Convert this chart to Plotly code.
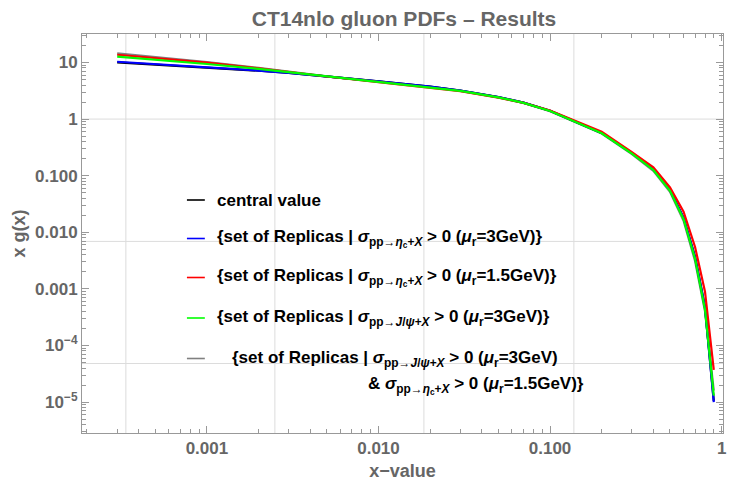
import numpy as np
import plotly.graph_objects as go

# ---------------- data ----------------
x_vals = [3e-4, 5e-4, 1e-3, 2e-3, 3e-3, 5e-3, 0.01, 0.02, 0.03, 0.05, 0.07,
          0.1, 0.2, 0.3, 0.4, 0.5, 0.6, 0.7, 0.8, 0.9]

central = [10.0, 9.2, 8.1, 7.15, 6.55, 5.7, 4.65, 3.75, 3.2, 2.45, 1.95,
           1.4, 0.57, 0.25, 0.13, 0.056, 0.018, 0.0037, 4.8e-4, 1.05e-5]
rep_eta3 = [10.3, 9.4, 8.25, 7.2, 6.57, 5.7, 4.65, 3.75, 3.2, 2.45, 1.95,
            1.4, 0.57, 0.25, 0.129, 0.056, 0.018, 0.0036, 4.7e-4, 1.0e-5]
rep_eta15 = [13.7, 11.9, 9.9, 7.9, 6.8, 5.65, 4.5, 3.6, 3.1, 2.4, 1.93,
             1.42, 0.6, 0.26, 0.14, 0.062, 0.0232, 0.0055, 8.9e-4, 3.7e-5]
rep_jpsi3 = [12.7, 11.2, 9.4, 7.7, 6.75, 5.7, 4.6, 3.7, 3.15, 2.42, 1.93,
             1.39, 0.56, 0.245, 0.126, 0.054, 0.017, 0.0034, 4.3e-4, 1.3e-5]
rep_both = [14.5, 12.5, 10.2, 8.0, 6.85, 5.7, 4.6, 3.7, 3.15, 2.42, 1.92,
            1.38, 0.555, 0.24, 0.122, 0.052, 0.016, 0.0031, 4.0e-4, 1.6e-5]

x_tickvals = [0.001, 0.01, 0.1, 1]
x_ticktext = ["0.001", "0.010", "0.100", "1"]
y_tickvals = [10, 1, 0.1, 0.01, 0.001, 1e-4, 1e-5]
y_ticktext = ["10", "1", "0.100", "0.010", "0.001", "10<sup>−4</sup>", "10<sup>−5</sup>"]

x_grid = [3.37e-4, 2.49e-3, 1.84e-2, 0.1377]
y_grid = [1.0, 6.9e-3, 4.8e-5]

x_range_log = [-3.728, 0.008]
y_range_log = [-5.546, 1.503]

SIG_ETA = "<i>σ</i><sub>pp→<i>η</i><sub>c</sub>+<i>X</i></sub>"
SIG_JPSI = "<i>σ</i><sub>pp→<i>J</i>/<i>ψ</i>+<i>X</i></sub>"
MU = "<i>μ</i><sub>r</sub>"
legend_entries = [
    ("central value", "#000000"),
    ("{set of Replicas | " + SIG_ETA + " &gt; 0 (" + MU + "=3GeV)}", "#0000ff"),
    ("{set of Replicas | " + SIG_ETA + " &gt; 0 (" + MU + "=1.5GeV)}", "#ff0000"),
    ("{set of Replicas | " + SIG_JPSI + " &gt; 0 (" + MU + "=3GeV)}", "#00ff00"),
    ("{set of Replicas | " + SIG_JPSI + " &gt; 0 (" + MU + "=3GeV)", "#808080"),
]
legend_extra = "&amp; " + SIG_ETA + " &gt; 0 (" + MU + "=1.5GeV)}"

# ---------------- figure ----------------
W, H = 732, 483
L, R, T, B = 81.5, 6, 34, 50
pw, ph = W - L - R, H - T - B

def px2paper(px):
    return (px - L) / pw

def py2paper(py):
    return (H - B - py) / ph

fig = go.Figure()

GRID = "#dcdcdc"
lo_y, hi_y = 10 ** (y_range_log[0] - 1), 10 ** (y_range_log[1] + 1)
lo_x, hi_x = 10 ** (x_range_log[0] - 1), 10 ** (x_range_log[1] + 1)
for gx in x_grid:
    fig.add_trace(go.Scatter(x=[gx, gx], y=[lo_y, hi_y], mode="lines",
                             line=dict(color=GRID, width=1), hoverinfo="skip", showlegend=False))
for gy in y_grid:
    fig.add_trace(go.Scatter(x=[lo_x, hi_x], y=[gy, gy], mode="lines",
                             line=dict(color=GRID, width=1), hoverinfo="skip", showlegend=False))

series = [
    (rep_both, "#808080"),
    (central, "#000000"),
    (rep_eta3, "#0000ff"),
    (rep_eta15, "#ff0000"),
    (rep_jpsi3, "#00ff00"),
]
for ys, col in series:
    fig.add_trace(go.Scatter(x=x_vals, y=ys, mode="lines",
                             line=dict(color=col, width=2.2), showlegend=False))

# minor ticks
minor_x = [m * 10.0 ** e for e in range(-4, 1) for m in range(2, 10) if m * 10.0 ** e < 1.02]
minor_y = [m * 10.0 ** e for e in range(-6, 2) for m in range(2, 10)]

AX = "#999999"
TXT = "#666666"
axis_common = dict(type="log", showline=True, linecolor=AX, linewidth=1, mirror="ticks",
                   ticks="inside", ticklen=7, tickcolor=AX, tickwidth=1,
                   showgrid=False, zeroline=False,
                   tickfont=dict(family="Liberation Sans, Arial", size=17, color=TXT, weight="bold"))

fig.update_xaxes(range=x_range_log, tickmode="array", tickvals=x_tickvals, ticktext=x_ticktext,
                 minor=dict(tickmode="array", tickvals=minor_x, ticks="inside", ticklen=4,
                            tickcolor=AX, showgrid=False),
                 title=dict(text="x−value", standoff=6,
                            font=dict(family="Liberation Sans, Arial", size=18, color=TXT, weight="bold")),
                 **axis_common)
fig.update_yaxes(range=y_range_log, tickmode="array", tickvals=y_tickvals, ticktext=y_ticktext,
                 minor=dict(tickmode="array", tickvals=minor_y, ticks="inside", ticklen=4,
                            tickcolor=AX, showgrid=False),
                 title=dict(text="x g(x)", standoff=4,
                            font=dict(family="Liberation Sans, Arial", size=18, color=TXT, weight="bold")),
                 **axis_common)

# legend (drawn manually)
leg_y = [200, 238.5, 277.5, 318, 358.5]
leg_text_x = [215.5, 215.5, 215.5, 215.5, 230]
anns = []
shapes = []
for (txt, col), cy, tx in zip(legend_entries, leg_y, leg_text_x):
    shapes.append(dict(type="line", xref="paper", yref="paper",
                       x0=px2paper(187), x1=px2paper(205), y0=py2paper(cy), y1=py2paper(cy),
                       line=dict(color=col, width=1.6)))
    anns.append(dict(text=txt, xref="paper", yref="paper", x=px2paper(tx), y=py2paper(cy),
                     xanchor="left", yanchor="middle", showarrow=False,
                     font=dict(family="Liberation Sans, Arial", size=17, color="#000000", weight="bold")))
anns.append(dict(text=legend_extra, xref="paper", yref="paper", x=px2paper(367), y=py2paper(385),
                 xanchor="left", yanchor="middle", showarrow=False,
                 font=dict(family="Liberation Sans, Arial", size=17, color="#000000", weight="bold")))

fig.update_layout(
    width=W, height=H,
    margin=dict(l=L, r=R, t=T, b=B, pad=0),
    paper_bgcolor="white", plot_bgcolor="white",
    title=dict(text="CT14nlo gluon PDFs – Results", x=px2paper(404) * pw / W + L / W, xanchor="center",
               y=1 - 19 / H, yanchor="middle",
               font=dict(family="Liberation Sans, Arial", size=21, color=TXT, weight="bold")),
    annotations=anns, shapes=shapes,
    showlegend=False,
)

fig.write_html("out.html")
